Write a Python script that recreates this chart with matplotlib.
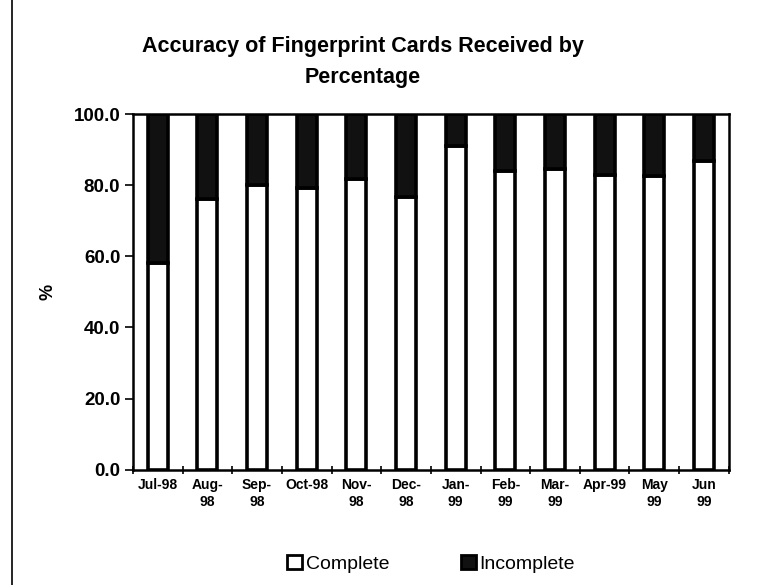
import matplotlib.pyplot as plt
from matplotlib.lines import Line2D
from matplotlib.patches import Patch

months = ['Jul-98', 'Aug-\n98', 'Sep-\n98', 'Oct-98', 'Nov-\n98', 'Dec-\n98',
          'Jan-\n99', 'Feb-\n99', 'Mar-\n99', 'Apr-99', 'May\n99', 'Jun\n99']
complete = [58.0, 76.2, 80.0, 79.1, 81.7, 76.8, 90.9, 83.9, 84.6, 83.0, 82.6, 86.9]
incomplete = [100 - c for c in complete]

plt.rcParams['font.family'] = ['Liberation Sans', 'DejaVu Sans']

fig = plt.figure(figsize=(7.77, 5.85), dpi=100)
ax = fig.add_axes([0.171, 0.197, 0.767, 0.608])

x = list(range(len(months)))
ax.bar(x, complete, width=0.4, color='white', edgecolor='black', linewidth=2.6,
       label='Complete')
ax.bar(x, incomplete, width=0.4, bottom=complete, color='#111111',
       edgecolor='black', linewidth=2.6, label='Incomplete')

ax.set_xlim(-0.5, len(months) - 0.5)
ax.set_ylim(0, 100)
ax.set_yticks(range(0, 101, 20))
ax.set_yticklabels([f'{v}.0' for v in range(0, 101, 20)],
                   fontsize=13.5, fontweight='bold')
ax.set_xticks(x)
ax.set_xticklabels(months, fontsize=10, fontweight='bold', linespacing=1.3)
ax.tick_params(axis='x', length=0, pad=6)
ax.set_xticks([i - 0.5 for i in range(len(months) + 1)], minor=True)
ax.tick_params(axis='x', which='minor', length=6, direction='inout', width=1.2)
ax.tick_params(axis='y', length=6, width=1.2, pad=3)

for side in ['top', 'bottom', 'left', 'right']:
    ax.spines[side].set_linewidth(1.8)

ax.set_ylabel('%', fontsize=13, fontweight='bold', labelpad=12)

fig.text(0.467, 0.894, 'Accuracy of Fingerprint Cards Received by\nPercentage',
         ha='center', va='center', fontsize=15.5, fontweight='bold',
         linespacing=1.6)

handles = [Patch(facecolor='white', edgecolor='black', linewidth=2),
           Patch(facecolor='#111111', edgecolor='black', linewidth=2)]
fig.legend(handles, ['Complete', 'Incomplete'], loc='center',
           bbox_to_anchor=(0.555, 0.036), ncol=2, frameon=False,
           fontsize=14, handlelength=0.75, handleheight=0.75,
           handletextpad=0.2, columnspacing=3.7)

fig.add_artist(Line2D([0.016, 0.016], [0.0, 1.0], color='black', linewidth=1.2))

fig.savefig('out.png', dpi=100)
